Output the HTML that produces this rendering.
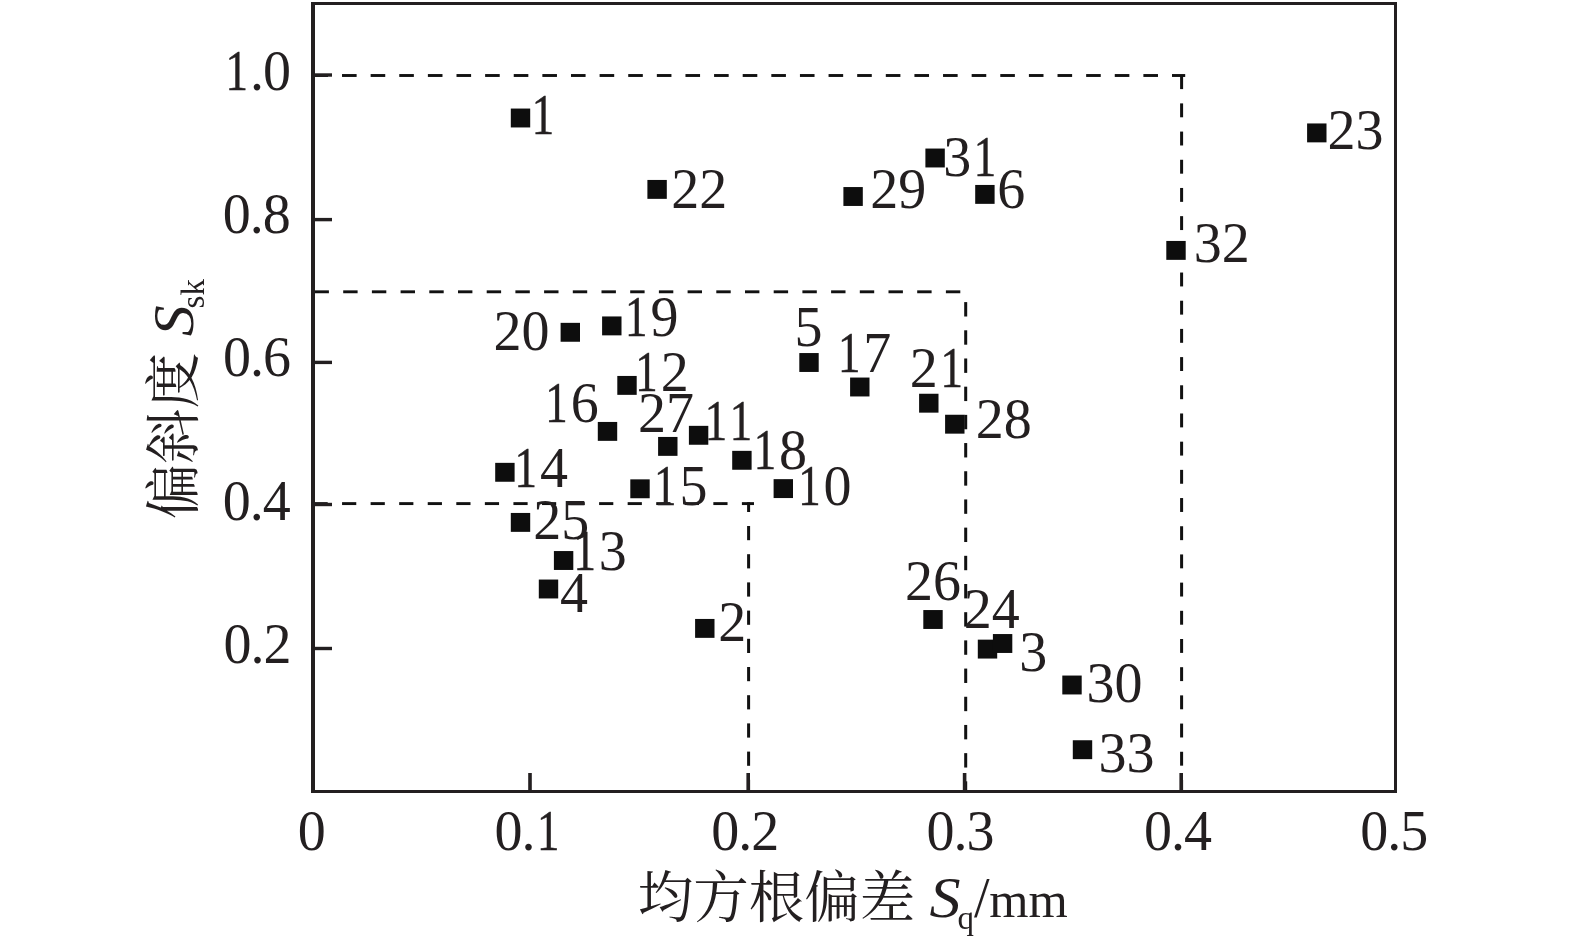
<!DOCTYPE html><html><head><meta charset="utf-8"><title>偏斜度与均方根偏差散点图</title><style>html,body{margin:0;padding:0;background:#fff;overflow:hidden}svg{display:block;will-change:transform}.t{font-family:"Liberation Serif","Noto Serif CJK SC",serif;font-size:56px;fill:#231f20}.c{font-family:"Noto Serif CJK SC","Liberation Serif",serif;font-size:56px;fill:#231f20}</style></head><body>
<svg width="1575" height="951" viewBox="0 0 1575 951">
<rect width="1575" height="951" fill="#fff"/>
<g fill="#111"><rect x="313.40" y="74.05" width="14.60" height="2.90"/><rect x="342.02" y="74.05" width="14.60" height="2.90"/><rect x="370.64" y="74.05" width="14.60" height="2.90"/><rect x="399.26" y="74.05" width="14.60" height="2.90"/><rect x="427.88" y="74.05" width="14.60" height="2.90"/><rect x="456.50" y="74.05" width="14.60" height="2.90"/><rect x="485.12" y="74.05" width="14.60" height="2.90"/><rect x="513.74" y="74.05" width="14.60" height="2.90"/><rect x="542.36" y="74.05" width="14.60" height="2.90"/><rect x="570.98" y="74.05" width="14.60" height="2.90"/><rect x="599.60" y="74.05" width="14.60" height="2.90"/><rect x="628.22" y="74.05" width="14.60" height="2.90"/><rect x="656.84" y="74.05" width="14.60" height="2.90"/><rect x="685.46" y="74.05" width="14.60" height="2.90"/><rect x="714.08" y="74.05" width="14.60" height="2.90"/><rect x="742.70" y="74.05" width="14.60" height="2.90"/><rect x="771.32" y="74.05" width="14.60" height="2.90"/><rect x="799.94" y="74.05" width="14.60" height="2.90"/><rect x="828.56" y="74.05" width="14.60" height="2.90"/><rect x="857.18" y="74.05" width="14.60" height="2.90"/><rect x="885.80" y="74.05" width="14.60" height="2.90"/><rect x="914.42" y="74.05" width="14.60" height="2.90"/><rect x="943.04" y="74.05" width="14.60" height="2.90"/><rect x="971.66" y="74.05" width="14.60" height="2.90"/><rect x="1000.28" y="74.05" width="14.60" height="2.90"/><rect x="1028.90" y="74.05" width="14.60" height="2.90"/><rect x="1057.52" y="74.05" width="14.60" height="2.90"/><rect x="1086.14" y="74.05" width="14.60" height="2.90"/><rect x="1114.76" y="74.05" width="14.60" height="2.90"/><rect x="1143.38" y="74.05" width="14.60" height="2.90"/><rect x="1172.00" y="74.05" width="13.20" height="2.90"/><rect x="1180.10" y="75.20" width="3.00" height="13.90"/><rect x="1180.10" y="103.39" width="3.00" height="13.90"/><rect x="1180.10" y="131.58" width="3.00" height="13.90"/><rect x="1180.10" y="159.77" width="3.00" height="13.90"/><rect x="1180.10" y="187.96" width="3.00" height="13.90"/><rect x="1180.10" y="216.15" width="3.00" height="13.90"/><rect x="1180.10" y="244.34" width="3.00" height="13.90"/><rect x="1180.10" y="272.53" width="3.00" height="13.90"/><rect x="1180.10" y="300.72" width="3.00" height="13.90"/><rect x="1180.10" y="328.91" width="3.00" height="13.90"/><rect x="1180.10" y="357.10" width="3.00" height="13.90"/><rect x="1180.10" y="385.29" width="3.00" height="13.90"/><rect x="1180.10" y="413.48" width="3.00" height="13.90"/><rect x="1180.10" y="441.67" width="3.00" height="13.90"/><rect x="1180.10" y="469.86" width="3.00" height="13.90"/><rect x="1180.10" y="498.05" width="3.00" height="13.90"/><rect x="1180.10" y="526.24" width="3.00" height="13.90"/><rect x="1180.10" y="554.43" width="3.00" height="13.90"/><rect x="1180.10" y="582.62" width="3.00" height="13.90"/><rect x="1180.10" y="610.81" width="3.00" height="13.90"/><rect x="1180.10" y="639.00" width="3.00" height="13.90"/><rect x="1180.10" y="667.19" width="3.00" height="13.90"/><rect x="1180.10" y="695.38" width="3.00" height="13.90"/><rect x="1180.10" y="723.57" width="3.00" height="13.90"/><rect x="1180.10" y="751.76" width="3.00" height="13.90"/><rect x="1180.10" y="779.95" width="3.00" height="10.05"/><rect x="314.50" y="290.35" width="14.40" height="2.90"/><rect x="343.20" y="290.35" width="14.40" height="2.90"/><rect x="371.90" y="290.35" width="14.40" height="2.90"/><rect x="400.60" y="290.35" width="14.40" height="2.90"/><rect x="429.30" y="290.35" width="14.40" height="2.90"/><rect x="458.00" y="290.35" width="14.40" height="2.90"/><rect x="486.70" y="290.35" width="14.40" height="2.90"/><rect x="515.40" y="290.35" width="14.40" height="2.90"/><rect x="544.10" y="290.35" width="14.40" height="2.90"/><rect x="572.80" y="290.35" width="14.40" height="2.90"/><rect x="601.50" y="290.35" width="14.40" height="2.90"/><rect x="630.20" y="290.35" width="14.40" height="2.90"/><rect x="658.90" y="290.35" width="14.40" height="2.90"/><rect x="687.60" y="290.35" width="14.40" height="2.90"/><rect x="716.30" y="290.35" width="14.40" height="2.90"/><rect x="745.00" y="290.35" width="14.40" height="2.90"/><rect x="773.70" y="290.35" width="14.40" height="2.90"/><rect x="802.40" y="290.35" width="14.40" height="2.90"/><rect x="831.10" y="290.35" width="14.40" height="2.90"/><rect x="859.80" y="290.35" width="14.40" height="2.90"/><rect x="888.50" y="290.35" width="14.40" height="2.90"/><rect x="917.20" y="290.35" width="14.40" height="2.90"/><rect x="945.90" y="290.35" width="14.40" height="2.90"/><rect x="964.20" y="302.10" width="3.00" height="14.40"/><rect x="964.20" y="330.29" width="3.00" height="14.40"/><rect x="964.20" y="358.48" width="3.00" height="14.40"/><rect x="964.20" y="386.67" width="3.00" height="14.40"/><rect x="964.20" y="414.86" width="3.00" height="14.40"/><rect x="964.20" y="443.05" width="3.00" height="14.40"/><rect x="964.20" y="471.24" width="3.00" height="14.40"/><rect x="964.20" y="499.43" width="3.00" height="14.40"/><rect x="964.20" y="527.62" width="3.00" height="14.40"/><rect x="964.20" y="555.81" width="3.00" height="14.40"/><rect x="964.20" y="584.00" width="3.00" height="14.40"/><rect x="964.20" y="612.19" width="3.00" height="14.40"/><rect x="964.20" y="640.38" width="3.00" height="14.40"/><rect x="964.20" y="668.57" width="3.00" height="14.40"/><rect x="964.20" y="696.76" width="3.00" height="14.40"/><rect x="964.20" y="724.95" width="3.00" height="14.40"/><rect x="964.20" y="753.14" width="3.00" height="14.40"/><rect x="964.20" y="781.33" width="3.00" height="8.67"/><rect x="313.50" y="502.15" width="14.20" height="2.90"/><rect x="342.06" y="502.15" width="14.20" height="2.90"/><rect x="370.62" y="502.15" width="14.20" height="2.90"/><rect x="399.18" y="502.15" width="14.20" height="2.90"/><rect x="427.74" y="502.15" width="14.20" height="2.90"/><rect x="456.30" y="502.15" width="14.20" height="2.90"/><rect x="484.86" y="502.15" width="14.20" height="2.90"/><rect x="513.42" y="502.15" width="14.20" height="2.90"/><rect x="541.98" y="502.15" width="14.20" height="2.90"/><rect x="570.54" y="502.15" width="14.20" height="2.90"/><rect x="599.10" y="502.15" width="14.20" height="2.90"/><rect x="627.66" y="502.15" width="14.20" height="2.90"/><rect x="656.22" y="502.15" width="14.20" height="2.90"/><rect x="684.78" y="502.15" width="14.20" height="2.90"/><rect x="713.34" y="502.15" width="14.20" height="2.90"/><rect x="741.90" y="502.15" width="12.10" height="2.90"/><rect x="747.10" y="502.30" width="3.00" height="9.70"/><rect x="747.10" y="526.00" width="3.00" height="14.20"/><rect x="747.10" y="554.20" width="3.00" height="14.20"/><rect x="747.10" y="582.40" width="3.00" height="14.20"/><rect x="747.10" y="610.60" width="3.00" height="14.20"/><rect x="747.10" y="638.80" width="3.00" height="14.20"/><rect x="747.10" y="667.00" width="3.00" height="14.20"/><rect x="747.10" y="695.20" width="3.00" height="14.20"/><rect x="747.10" y="723.40" width="3.00" height="14.20"/><rect x="747.10" y="751.60" width="3.00" height="14.20"/><rect x="747.10" y="779.80" width="3.00" height="10.20"/></g>
<g fill="#231f20"><rect x="311" y="2" width="4" height="791"/><rect x="311" y="2" width="1086" height="3"/><rect x="1394" y="2" width="3" height="791"/><rect x="311" y="790" width="1086" height="3"/><rect x="314" y="73.30" width="18" height="3.4"/><rect x="314" y="217.90" width="18" height="3.4"/><rect x="314" y="360.70" width="18" height="3.4"/><rect x="314" y="502.80" width="18" height="3.4"/><rect x="314" y="646.80" width="18" height="3.4"/><rect x="528.20" y="773" width="3.6" height="18"/><rect x="746.40" y="773" width="3.6" height="18"/><rect x="962.80" y="773" width="3.6" height="18"/><rect x="1179.40" y="773" width="3.6" height="18"/></g>
<g fill="#0d0d0d"><rect x="510.80" y="108.55" width="19.40" height="18.90"/><rect x="647.40" y="179.95" width="19.40" height="18.90"/><rect x="843.40" y="187.05" width="19.40" height="18.90"/><rect x="925.40" y="148.55" width="19.40" height="18.90"/><rect x="975.20" y="184.95" width="19.40" height="18.90"/><rect x="1307.10" y="123.45" width="19.40" height="18.90"/><rect x="1166.30" y="240.95" width="19.40" height="18.90"/><rect x="560.60" y="322.85" width="19.40" height="18.90"/><rect x="602.10" y="316.45" width="19.40" height="18.90"/><rect x="617.30" y="375.95" width="19.40" height="18.90"/><rect x="597.80" y="421.95" width="19.40" height="18.90"/><rect x="658.10" y="436.95" width="19.40" height="18.90"/><rect x="688.90" y="425.85" width="19.40" height="18.90"/><rect x="799.30" y="353.05" width="19.40" height="18.90"/><rect x="850.10" y="377.55" width="19.40" height="18.90"/><rect x="732.20" y="450.85" width="19.40" height="18.90"/><rect x="773.60" y="479.15" width="19.40" height="18.90"/><rect x="919.10" y="393.75" width="19.40" height="18.90"/><rect x="945.10" y="414.75" width="19.40" height="18.90"/><rect x="495.20" y="462.85" width="19.40" height="18.90"/><rect x="630.30" y="479.35" width="19.40" height="18.90"/><rect x="510.80" y="512.95" width="19.40" height="18.90"/><rect x="553.90" y="551.05" width="19.40" height="18.90"/><rect x="538.80" y="579.55" width="19.40" height="18.90"/><rect x="695.10" y="618.95" width="19.40" height="18.90"/><rect x="923.30" y="610.05" width="19.40" height="18.90"/><rect x="977.80" y="639.65" width="19.40" height="18.90"/><rect x="992.90" y="634.05" width="19.40" height="18.90"/><rect x="1062.30" y="675.55" width="19.40" height="18.90"/><rect x="1072.80" y="740.25" width="19.40" height="18.90"/></g>
<text class="t" y="134.00"><tspan x="531.77" textLength="22.40" lengthAdjust="spacingAndGlyphs" stroke="#231f20" stroke-width="0.5">1</tspan></text><text class="t" y="207.80"><tspan x="671.31 699.31">22</tspan></text><text class="t" y="207.70"><tspan x="870.27 898.27">29</tspan></text><text class="t" y="176.00"><tspan x="943.21">3</tspan><tspan x="973.78" textLength="22.40" lengthAdjust="spacingAndGlyphs" stroke="#231f20" stroke-width="0.5">1</tspan></text><text class="t" y="208.20"><tspan x="997.33">6</tspan></text><text class="t" y="149.00"><tspan x="1327.41 1355.41">23</tspan></text><text class="t" y="261.80"><tspan x="1193.66 1221.66">32</tspan></text><text class="t" y="349.90"><tspan x="493.49 521.49">20</tspan></text><text class="t" y="336.00"><tspan x="625.02" textLength="22.40" lengthAdjust="spacingAndGlyphs" stroke="#231f20" stroke-width="0.5">1</tspan><tspan x="650.45">9</tspan></text><text class="t" y="390.80"><tspan x="635.37" textLength="22.40" lengthAdjust="spacingAndGlyphs" stroke="#231f20" stroke-width="0.5">1</tspan><tspan x="660.80">2</tspan></text><text class="t" y="421.80"><tspan x="545.30" textLength="22.40" lengthAdjust="spacingAndGlyphs" stroke="#231f20" stroke-width="0.5">1</tspan><tspan x="570.74">6</tspan></text><text class="t" y="431.90"><tspan x="638.03 666.03">27</tspan></text><text class="t" y="440.30"><tspan x="704.67" textLength="22.40" lengthAdjust="spacingAndGlyphs" stroke="#231f20" stroke-width="0.5">1</tspan><tspan x="729.77" textLength="22.40" lengthAdjust="spacingAndGlyphs" stroke="#231f20" stroke-width="0.5">1</tspan></text><text class="t" y="346.30"><tspan x="794.52">5</tspan></text><text class="t" y="372.40"><tspan x="837.93" textLength="22.40" lengthAdjust="spacingAndGlyphs" stroke="#231f20" stroke-width="0.5">1</tspan><tspan x="863.36">7</tspan></text><text class="t" y="468.80"><tspan x="753.64" textLength="22.40" lengthAdjust="spacingAndGlyphs" stroke="#231f20" stroke-width="0.5">1</tspan><tspan x="779.07">8</tspan></text><text class="t" y="504.60"><tspan x="798.19" textLength="22.40" lengthAdjust="spacingAndGlyphs" stroke="#231f20" stroke-width="0.5">1</tspan><tspan x="823.62">0</tspan></text><text class="t" y="386.90"><tspan x="909.82">2</tspan><tspan x="940.39" textLength="22.40" lengthAdjust="spacingAndGlyphs" stroke="#231f20" stroke-width="0.5">1</tspan></text><text class="t" y="437.80"><tspan x="975.69 1003.69">28</tspan></text><text class="t" y="487.00"><tspan x="514.61" textLength="22.40" lengthAdjust="spacingAndGlyphs" stroke="#231f20" stroke-width="0.5">1</tspan><tspan x="540.04">4</tspan></text><text class="t" y="504.50"><tspan x="654.11" textLength="22.40" lengthAdjust="spacingAndGlyphs" stroke="#231f20" stroke-width="0.5">1</tspan><tspan x="679.55">5</tspan></text><text class="t" y="538.70"><tspan x="533.21 561.21">25</tspan></text><text class="t" y="570.00"><tspan x="573.41" textLength="22.40" lengthAdjust="spacingAndGlyphs" stroke="#231f20" stroke-width="0.5">1</tspan><tspan x="598.85">3</tspan></text><text class="t" y="611.70"><tspan x="560.09">4</tspan></text><text class="t" y="640.80"><tspan x="718.31">2</tspan></text><text class="t" y="599.70"><tspan x="905.00 933.00">26</tspan></text><text class="t" y="627.80"><tspan x="963.71 991.71">24</tspan></text><text class="t" y="670.50"><tspan x="1019.25">3</tspan></text><text class="t" y="702.20"><tspan x="1086.58 1114.58">30</tspan></text><text class="t" y="772.40"><tspan x="1098.45 1126.45">33</tspan></text><text class="t" y="90.00"><tspan x="225.59" textLength="22.40" lengthAdjust="spacingAndGlyphs" stroke="#231f20" stroke-width="0.5">1</tspan><tspan x="250.02 263.02">.0</tspan></text><text class="t" y="232.80"><tspan x="222.65 249.65 262.65">0.8</tspan></text><text class="t" y="376.00"><tspan x="222.92 249.92 262.92">0.6</tspan></text><text class="t" y="520.00"><tspan x="222.67 249.67 262.67">0.4</tspan></text><text class="t" y="662.80"><tspan x="223.48 250.48 263.48">0.2</tspan></text><text class="t" y="850.00"><tspan x="297.85">0</tspan></text><text class="t" y="850.00"><tspan x="494.39 521.39">0.</tspan><tspan x="536.95" textLength="22.40" lengthAdjust="spacingAndGlyphs" stroke="#231f20" stroke-width="0.5">1</tspan></text><text class="t" y="850.00"><tspan x="711.28 738.28 751.28">0.2</tspan></text><text class="t" y="850.00"><tspan x="926.53 953.53 966.53">0.3</tspan></text><text class="t" y="850.00"><tspan x="1144.07 1171.07 1184.07">0.4</tspan></text><text class="t" y="850.00"><tspan x="1360.23 1387.23 1400.23">0.5</tspan></text>
<text class="c" x="637.8" y="917.3" style="font-size:55.5px">均方根偏差</text>
<text class="t" x="931.1" y="917.3" font-style="italic" transform="matrix(1.11 0 0 1 -103.95 0)">S</text>
<text class="t" x="957.5" y="929.1" style="font-size:33px">q</text>
<text class="t" x="973.9" y="917.3">/</text>
<text class="t" x="989.2" y="917.3" style="font-size:50.5px">mm</text>
<g transform="translate(193,0) rotate(-90)">
<text class="c" x="-519.3" y="0" style="font-size:55.5px">偏斜度</text>
<text class="t" x="-334.8" y="0" font-style="italic" transform="matrix(1.11 0 0 1 35.30 0)">S</text>
<text class="t" x="-308.4" y="10.5" style="font-size:33px">sk</text>
</g>
</svg></body></html>
